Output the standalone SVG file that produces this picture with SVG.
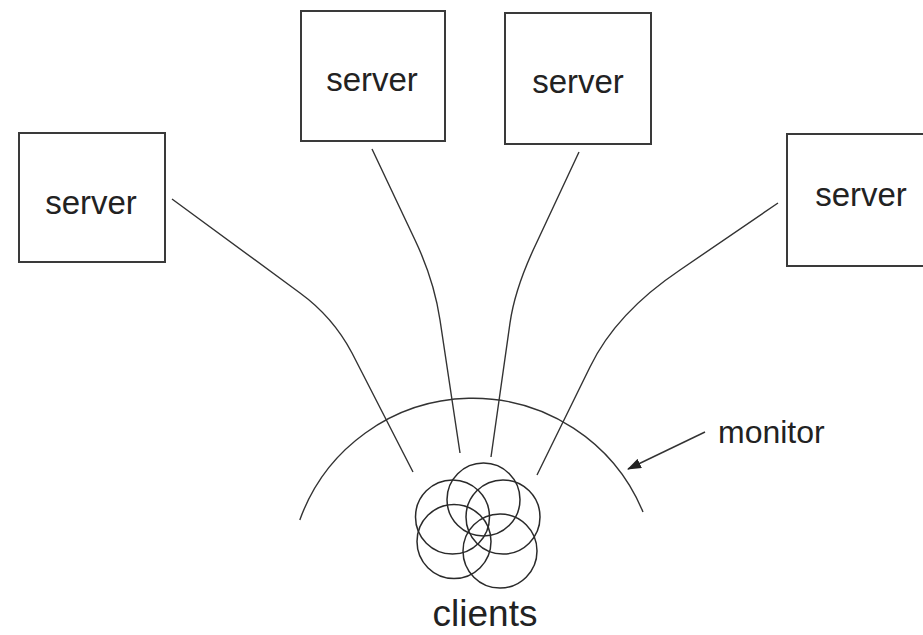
<svg xmlns="http://www.w3.org/2000/svg" width="923" height="635" viewBox="0 0 923 635">
<style>
.box{fill:#fff;stroke:#3a3a3a;stroke-width:2}
.lbl{font-family:"Liberation Sans",Arial,sans-serif;font-size:33px;fill:#222;text-anchor:middle}
.ln{fill:none;stroke:#333;stroke-width:1.4}
.cl{fill:none;stroke:#2a2a2a;stroke-width:1.5}
</style>
<defs>
<marker id="ah" markerWidth="14" markerHeight="10" refX="13" refY="5" orient="auto" markerUnits="userSpaceOnUse">
<path d="M0,0 L14,5 L0,10 Z" fill="#222"/>
</marker>
</defs>
<rect width="923" height="635" fill="#fff"/>
<g id="server1"><rect class="box" x="19" y="133" width="146" height="129"/><text class="lbl" x="91" y="214">server</text></g>
<g id="server2"><rect class="box" x="301" y="11" width="144" height="130"/><text class="lbl" x="372" y="91">server</text></g>
<g id="server3"><rect class="box" x="505" y="13" width="146" height="131"/><text class="lbl" x="578" y="93">server</text></g>
<g id="server4"><rect class="box" x="787" y="134" width="148" height="132"/><text class="lbl" x="861" y="206">server</text></g>
<g id="monitor">
<path class="ln" d="M299.8,520 A184,184 0 0 1 643,512"/>
<text x="718" y="443" style="font-family:'Liberation Sans',Arial,sans-serif;font-size:32px;fill:#222">monitor</text>
</g>
<g id="clients">
<circle class="cl" cx="483.5" cy="499.5" r="36.5"/>
<circle class="cl" cx="452.5" cy="517" r="37"/>
<circle class="cl" cx="503" cy="517" r="37"/>
<circle class="cl" cx="454" cy="541.5" r="37"/>
<circle class="cl" cx="500" cy="551" r="37"/>
<text class="lbl" x="485" y="626" style="font-size:37px">clients</text>
</g>
<g id="connectors">
<path class="ln" d="M172,199 L300,293 Q333,317 352,353 L413,472"/>
<path class="ln" d="M372,149 L415,240 Q434,280 440,320 L460,453"/>
<path class="ln" d="M579,152 L536,244 Q515,288 510,323 L491,457"/>
<path class="ln" d="M778,203 L680,270 Q616,313 590,367 L537,475"/>
<line class="ln" x1="705" y1="432" x2="628" y2="469" marker-end="url(#ah)"/>
</g>
</svg>
